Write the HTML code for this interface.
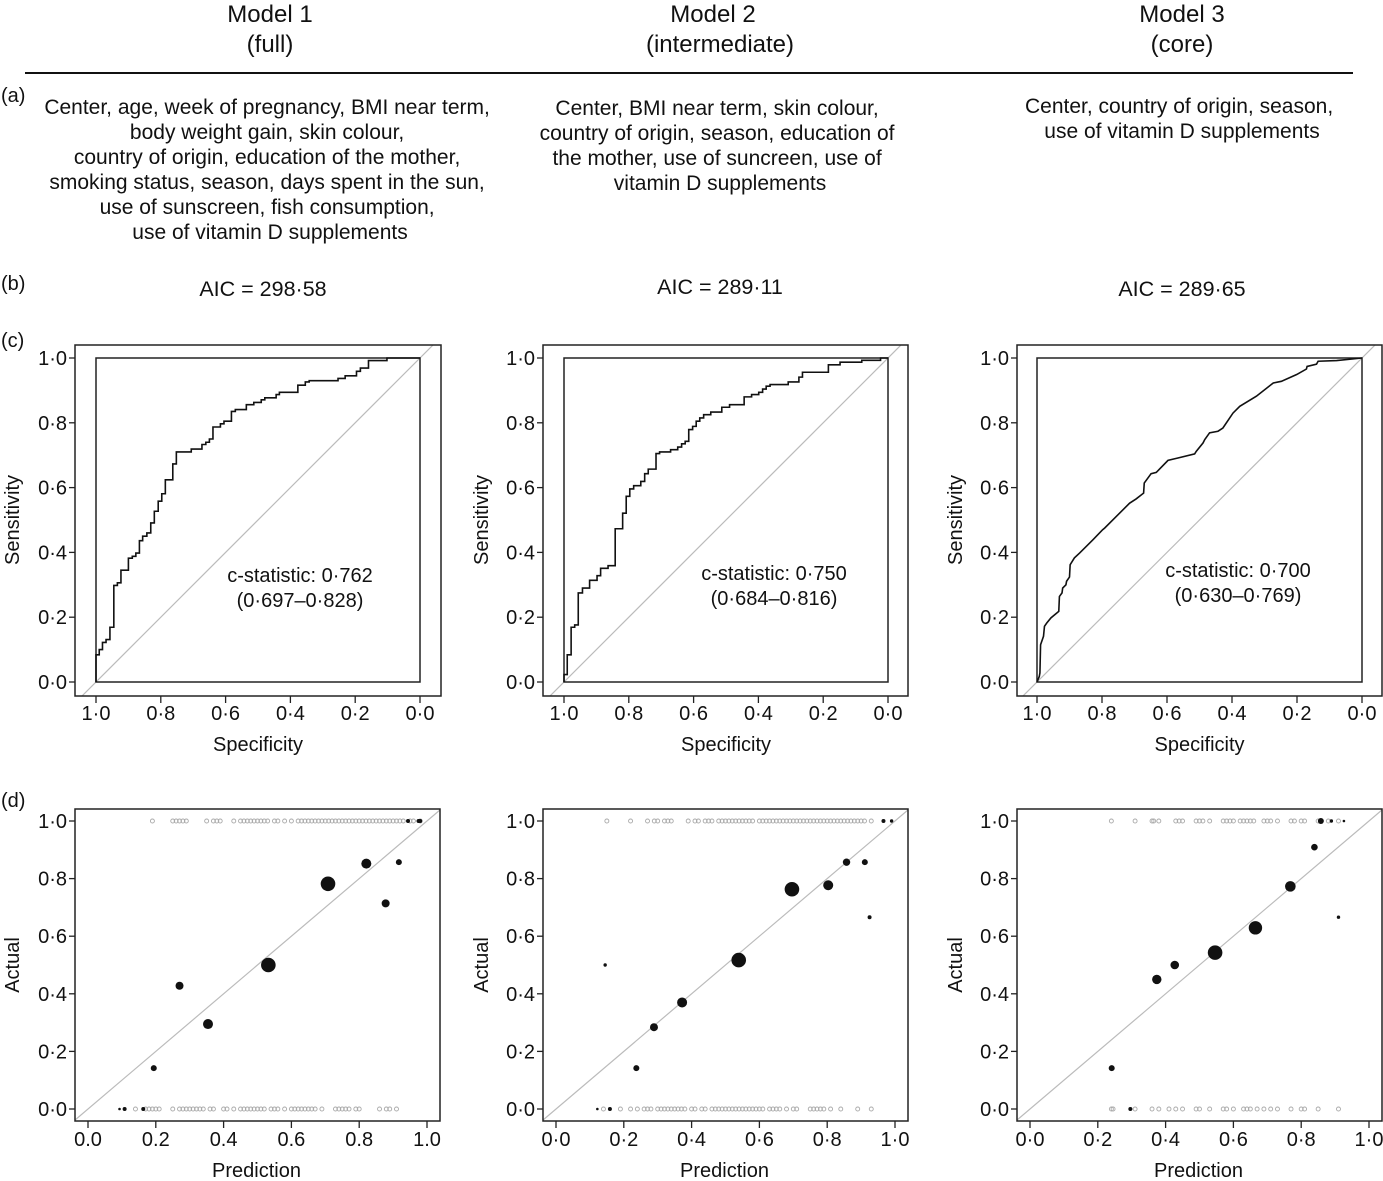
<!DOCTYPE html>
<html><head><meta charset="utf-8"><style>
html,body{margin:0;padding:0;background:#fff;}
svg{display:block;font-family:"Liberation Sans",Arial,sans-serif;}
</style></head><body>
<svg id="fig" width="1383" height="1181" viewBox="0 0 1383 1181" xmlns="http://www.w3.org/2000/svg">
<g font-size="24" text-anchor="middle" fill="#111">
<text x="270" y="22">Model 1</text>
<text x="270" y="52">(full)</text>
<text x="713" y="22">Model 2</text>
<text x="720" y="52">(intermediate)</text>
<text x="1182" y="22">Model 3</text>
<text x="1182" y="52">(core)</text>
</g>
<line x1="25" y1="73" x2="1353" y2="73" stroke="#111" stroke-width="2"/>
<g font-size="20" fill="#111">
<text x="1" y="102">(a)</text>
<text x="1" y="290">(b)</text>
<text x="1" y="347">(c)</text>
<text x="1" y="807">(d)</text>
</g>
<g font-size="21" text-anchor="middle" fill="#111">
<text>
<tspan x="270" y="114">Center, age, week of pregnancy, BMI near term,</tspan>
<tspan x="270" y="139">body weight gain, skin colour,</tspan>
<tspan x="270" y="164">country of origin, education of the mother,</tspan>
<tspan x="270" y="189">smoking status, season, days spent in the sun,</tspan>
<tspan x="270" y="214">use of sunscreen, fish consumption,</tspan>
<tspan x="270" y="239">use of vitamin D supplements</tspan>
</text>
<text>
<tspan x="720" y="115">Center, BMI near term, skin colour,</tspan>
<tspan x="720" y="140">country of origin, season, education of</tspan>
<tspan x="720" y="165">the mother, use of suncreen, use of</tspan>
<tspan x="720" y="190">vitamin D supplements</tspan>
</text>
<text>
<tspan x="1182" y="113">Center, country of origin, season,</tspan>
<tspan x="1182" y="138">use of vitamin D supplements</tspan>
</text>
<text x="263" y="296" font-size="21.5">AIC = 298·58</text>
<text x="720" y="294" font-size="21.5">AIC = 289·11</text>
<text x="1182" y="296" font-size="21.5">AIC = 289·65</text>
</g>
<g id="charts"></g>
</svg>
<script>
// ROC data (specificity, sensitivity)
const roc1Spec=[1.0,0.99,0.98,0.969,0.957,0.945,0.934,0.923,0.90,0.888,0.877,0.866,0.856,0.843,0.831,0.82,0.808,0.797,0.786,0.763,0.752,0.706,0.673,0.661,0.65,0.639,0.616,0.605,0.582,0.57,0.536,0.513,0.49,0.479,0.444,0.434,0.377,0.354,0.342,0.253,0.231,0.196,0.184,0.159,0.102];
const roc1Sens=[0.084,0.10,0.122,0.131,0.169,0.298,0.306,0.345,0.382,0.388,0.398,0.436,0.45,0.46,0.491,0.527,0.558,0.581,0.624,0.673,0.71,0.719,0.733,0.74,0.75,0.787,0.797,0.805,0.835,0.841,0.856,0.863,0.871,0.877,0.887,0.894,0.916,0.926,0.93,0.937,0.945,0.959,0.969,0.992,1.0];
const roc2Spec=[1.0,0.99,0.978,0.967,0.956,0.943,0.921,0.898,0.887,0.864,0.842,0.819,0.808,0.797,0.785,0.763,0.751,0.74,0.716,0.705,0.671,0.649,0.637,0.626,0.615,0.603,0.592,0.581,0.569,0.547,0.513,0.489,0.444,0.421,0.399,0.387,0.376,0.364,0.308,0.275,0.264,0.184,0.148,0.081,0.023];
const roc2Sens=[0.023,0.084,0.169,0.176,0.275,0.29,0.314,0.328,0.351,0.359,0.473,0.521,0.573,0.596,0.606,0.619,0.643,0.657,0.705,0.71,0.717,0.725,0.735,0.743,0.779,0.789,0.805,0.815,0.825,0.833,0.848,0.856,0.88,0.887,0.894,0.904,0.913,0.918,0.926,0.941,0.956,0.979,0.987,0.993,1.0];
const roc3Spec=[1.0,0.993,0.991,0.989,0.98,0.977,0.97,0.957,0.933,0.931,0.923,0.921,0.911,0.909,0.90,0.898,0.885,0.869,0.828,0.798,0.792,0.756,0.715,0.695,0.672,0.67,0.649,0.633,0.597,0.568,0.515,0.51,0.489,0.484,0.469,0.443,0.428,0.397,0.376,0.325,0.273,0.248,0.201,0.171,0.169,0.14,0.135,0.078,0.0];
const roc3Sens=[0.0,0.017,0.028,0.115,0.141,0.172,0.182,0.198,0.218,0.264,0.275,0.29,0.30,0.311,0.324,0.362,0.383,0.398,0.439,0.47,0.475,0.511,0.552,0.565,0.583,0.614,0.643,0.647,0.684,0.691,0.704,0.712,0.738,0.748,0.769,0.774,0.784,0.83,0.851,0.882,0.923,0.928,0.949,0.966,0.974,0.981,0.99,0.992,1.0];
const rocTicks=[1.0,0.8,0.6,0.4,0.2,0.0];
const rocTickLabels=["1·0","0·8","0·6","0·4","0·2","0·0"];
const yTicks=[0.0,0.2,0.4,0.6,0.8,1.0];
const yTickLabels=["0·0","0·2","0·4","0·6","0·8","1·0"];
const cStatLabels=["c-statistic: 0·762","c-statistic: 0·750","c-statistic: 0·700"];
const cCiLabels=["(0·697–0·828)","(0·684–0·816)","(0·630–0·769)"];
// Calibration data
const cal1Pred=[0.093,0.108,0.163,0.194,0.27,0.354,0.532,0.708,0.821,0.878,0.917,0.944,0.975,0.98];
const cal1Act=[0,0,0,0.142,0.428,0.295,0.5,0.782,0.852,0.714,0.857,1,1,1];
const cal1Size=[1.3,2,2,3,4,5,7.3,7.3,5,4,3,2,2,2];
const cal2Pred=[0.122,0.159,0.145,0.237,0.289,0.372,0.539,0.696,0.803,0.857,0.911,0.925,0.966,0.99];
const cal2Act=[0,0,0.5,0.142,0.284,0.37,0.517,0.763,0.777,0.857,0.857,0.666,1,1];
const cal2Size=[1.3,2,1.7,3,4,5,7.3,7.3,5,3.7,3,2,2,1.7];
const cal3Pred=[0.296,0.241,0.374,0.427,0.546,0.665,0.768,0.839,0.858,0.889,0.926,0.91];
const cal3Act=[0,0.142,0.45,0.5,0.543,0.629,0.773,0.909,1,1,1,0.666];
const cal3Size=[2,3,4.7,4.3,7.3,6.7,5.3,3.3,3,1.7,1.3,1.7];
const rug1Top=[0.19,0.25,0.26,0.27,0.28,0.29,0.35,0.37,0.38,0.39,0.43,0.45,0.46,0.47,0.48,0.49,0.5,0.51,0.52,0.53,0.55,0.56,0.58,0.6,0.62,0.63,0.64,0.65,0.66,0.67,0.68,0.69,0.7,0.71,0.72,0.73,0.74,0.75,0.76,0.77,0.78,0.79,0.8,0.81,0.82,0.83,0.84,0.85,0.86,0.87,0.88,0.89,0.9,0.91,0.92,0.93,0.95,0.96,0.98];
const rug1Bot=[0.14,0.17,0.18,0.19,0.2,0.21,0.25,0.27,0.28,0.29,0.3,0.31,0.32,0.33,0.34,0.36,0.37,0.4,0.41,0.43,0.45,0.46,0.47,0.48,0.49,0.5,0.51,0.52,0.54,0.55,0.56,0.58,0.6,0.61,0.62,0.63,0.64,0.65,0.66,0.67,0.69,0.73,0.74,0.75,0.76,0.77,0.79,0.8,0.86,0.88,0.89,0.91];
const rug2Top=[0.15,0.22,0.27,0.29,0.30,0.32,0.33,0.34,0.39,0.41,0.42,0.44,0.45,0.46,0.48,0.49,0.5,0.51,0.52,0.53,0.54,0.55,0.56,0.57,0.58,0.6,0.61,0.62,0.63,0.64,0.65,0.66,0.67,0.68,0.69,0.7,0.71,0.72,0.73,0.74,0.75,0.76,0.77,0.78,0.79,0.8,0.81,0.82,0.83,0.84,0.85,0.86,0.87,0.88,0.89,0.9,0.91,0.93];
const rug2Bot=[0.14,0.19,0.22,0.24,0.26,0.27,0.28,0.3,0.31,0.32,0.33,0.34,0.35,0.36,0.37,0.38,0.4,0.41,0.43,0.44,0.46,0.47,0.48,0.49,0.5,0.51,0.52,0.53,0.54,0.55,0.56,0.57,0.58,0.59,0.6,0.61,0.63,0.64,0.65,0.66,0.68,0.7,0.71,0.75,0.76,0.77,0.78,0.79,0.81,0.84,0.89,0.93];
const rug3Top=[0.24,0.31,0.36,0.365,0.38,0.43,0.44,0.45,0.49,0.5,0.51,0.53,0.57,0.58,0.59,0.6,0.62,0.63,0.64,0.65,0.66,0.69,0.7,0.71,0.73,0.77,0.78,0.8,0.81,0.85,0.88,0.91];
const rug3Bot=[0.24,0.245,0.31,0.36,0.38,0.41,0.43,0.45,0.49,0.5,0.53,0.57,0.58,0.6,0.63,0.64,0.65,0.67,0.69,0.71,0.73,0.77,0.8,0.81,0.85,0.91];
const calTicks=[0,0.2,0.4,0.6,0.8,1.0];
const calXLabels=[["0.0","0.2","0.4","0.6","0.8","1.0"],["0·0","0·2","0·4","0·6","0·8","1·0"],["0·0","0·2","0·4","0·6","0·8","1·0"]];

const NS="http://www.w3.org/2000/svg";
const root=document.getElementById('charts');
function mk(tag,attrs,parent){const e=document.createElementNS(NS,tag);for(const k in attrs)e.setAttribute(k,attrs[k]);(parent||root).appendChild(e);return e;}
function txt(s,attrs,parent){const e=mk('text',attrs,parent);e.textContent=s;return e;}
const TFS=20;

const rocPanels=[{ox0:75,ox1:441,ix0:96,ix1:420,lab:12,cx:300,cy:582},{ox0:543,ox1:908,ix0:564,ix1:888,lab:481,cx:774,cy:580},{ox0:1017,ox1:1382,ix0:1037,ix1:1362,lab:955,cx:1238,cy:577}];
const rocData=[[roc1Spec,roc1Sens,true],[roc2Spec,roc2Sens,true],[roc3Spec,roc3Sens,false]];
const OY0=345,OY1=696,IY0=358,IY1=682;
rocPanels.forEach((p,k)=>{
  const g=mk('g',{});
  
  
  const sx=s=>p.ix0+(1-s)*(p.ix1-p.ix0);
  const sy=v=>IY1-v*(IY1-IY0);
  const cid='clipc'+k;
  const cp=mk('clipPath',{id:cid},g);mk('rect',{x:p.ox0,y:OY0,width:p.ox1-p.ox0,height:OY1-OY0},cp);
  const diag=mk('line',{x1:sx(1.2),y1:sy(-0.2),x2:sx(-0.2),y2:sy(1.2),stroke:'#bbb','stroke-width':1.2,'clip-path':'url(#'+cid+')'},g);
  
  
  const ib=mk('rect',{x:p.ix0,y:IY0,width:p.ix1-p.ix0,height:IY1-IY0,fill:'none',stroke:'#222','stroke-width':1.5},g);
  
  
  const ob=mk('rect',{x:p.ox0,y:OY0,width:p.ox1-p.ox0,height:OY1-OY0,fill:'none',stroke:'#222','stroke-width':1.5},g);
  
  
  const [sp,se,step]=rocData[k];
  let d='M'+sx(sp[0])+','+sy(0);
  for(let i=0;i<sp.length;i++){
    d+=' L'+sx(sp[i])+','+sy(se[i]);
    const nx=i+1<sp.length?sp[i+1]:0;
    if(step||i+1>=sp.length) d+=' L'+sx(nx)+','+sy(se[i]);
  }
  const path=mk('path',{d:d,fill:'none',stroke:'#111','stroke-width':1.6},g);
  
  
  rocTicks.forEach((t,i)=>{
    mk('line',{x1:sx(t),y1:OY1,x2:sx(t),y2:OY1+7,stroke:'#222','stroke-width':1.3},g);
    const tl=txt(rocTickLabels[i],{x:sx(t),y:720,'font-size':TFS,'text-anchor':'middle',fill:'#111'},g);
    
    
  });
  yTicks.forEach((t,i)=>{
    mk('line',{x1:p.ox0,y1:sy(t),x2:p.ox0-6,y2:sy(t),stroke:'#222','stroke-width':1.3},g);
    const tl=txt(yTickLabels[i],{x:p.ox0-8,y:sy(t)+7,'font-size':TFS,'text-anchor':'end',fill:'#111'},g);
    
    
  });
  const xt=txt('Specificity',{x:(p.ix0+p.ix1)/2,y:751,'font-size':TFS,'text-anchor':'middle',fill:'#111'},g);
  
  
  const yt=txt('Sensitivity',{x:0,y:0,'font-size':TFS,'text-anchor':'middle',fill:'#111',transform:'translate('+(p.lab+7)+',520) rotate(-90)'},g);
  
  
  const c1=txt(cStatLabels[k],{x:p.cx,y:p.cy,'font-size':TFS,'text-anchor':'middle',fill:'#111'},g);
  
  
  const c2=txt(cCiLabels[k],{x:p.cx,y:p.cy+25,'font-size':TFS,'text-anchor':'middle',fill:'#111'},g);
  
  
});

const calPanels=[{fx0:75,fx1:440,x0:88,x1:427,lab:12},{fx0:543,fx1:908,x0:556,x1:895,lab:481},{fx0:1017,fx1:1382,x0:1030,x1:1369,lab:955}];
const calData=[[cal1Pred,cal1Act,cal1Size,rug1Top,rug1Bot],[cal2Pred,cal2Act,cal2Size,rug2Top,rug2Bot],[cal3Pred,cal3Act,cal3Size,rug3Top,rug3Bot]];
const FY0=809,FY1=1121,Y1=821,Y0=1109;
calPanels.forEach((p,k)=>{
  const g=mk('g',{});
  
  
  const sx=v=>p.x0+v*(p.x1-p.x0);
  const sy=v=>Y0-v*(Y0-Y1);
  const cid='clipd'+k;
  const cp=mk('clipPath',{id:cid},g);mk('rect',{x:p.fx0,y:FY0,width:p.fx1-p.fx0,height:FY1-FY0},cp);
  const diag=mk('line',{x1:sx(-0.2),y1:sy(-0.2),x2:sx(1.2),y2:sy(1.2),stroke:'#bbb','stroke-width':1.2,'clip-path':'url(#'+cid+')'},g);
  
  
  const [pr,ac,sz,rt,rb]=calData[k];
  rt.forEach(v=>{const c=mk('circle',{cx:sx(v),cy:sy(1),r:2,fill:'none',stroke:'#aaa','stroke-width':0.9},g);
    
    });
  rb.forEach(v=>{const c=mk('circle',{cx:sx(v),cy:sy(0),r:2,fill:'none',stroke:'#aaa','stroke-width':0.9},g);
    
    });
  pr.forEach((v,i)=>{const c=mk('circle',{cx:sx(v),cy:sy(ac[i]),r:sz[i],fill:'#111'},g);
    
    });
  const ob=mk('rect',{x:p.fx0,y:FY0,width:p.fx1-p.fx0,height:FY1-FY0,fill:'none',stroke:'#222','stroke-width':1.5},g);
  
  
  calTicks.forEach((t,i)=>{
    mk('line',{x1:sx(t),y1:FY1,x2:sx(t),y2:FY1+7,stroke:'#222','stroke-width':1.3},g);
    const tl=txt(calXLabels[k][i],{x:sx(t),y:1146,'font-size':TFS,'text-anchor':'middle',fill:'#111'},g);
    
    
  });
  yTicks.forEach((t,i)=>{
    mk('line',{x1:p.fx0,y1:sy(t),x2:p.fx0-6,y2:sy(t),stroke:'#222','stroke-width':1.3},g);
    const tl=txt(yTickLabels[i],{x:p.fx0-8,y:sy(t)+7,'font-size':TFS,'text-anchor':'end',fill:'#111'},g);
    
    
  });
  const xt=txt('Prediction',{x:(p.x0+p.x1)/2-1,y:1177,'font-size':TFS,'text-anchor':'middle',fill:'#111'},g);
  
  
  const yt=txt('Actual',{x:0,y:0,'font-size':TFS,'text-anchor':'middle',fill:'#111',transform:'translate('+(p.lab+7)+',965) rotate(-90)'},g);
  
  
});
</script>
</body></html>
